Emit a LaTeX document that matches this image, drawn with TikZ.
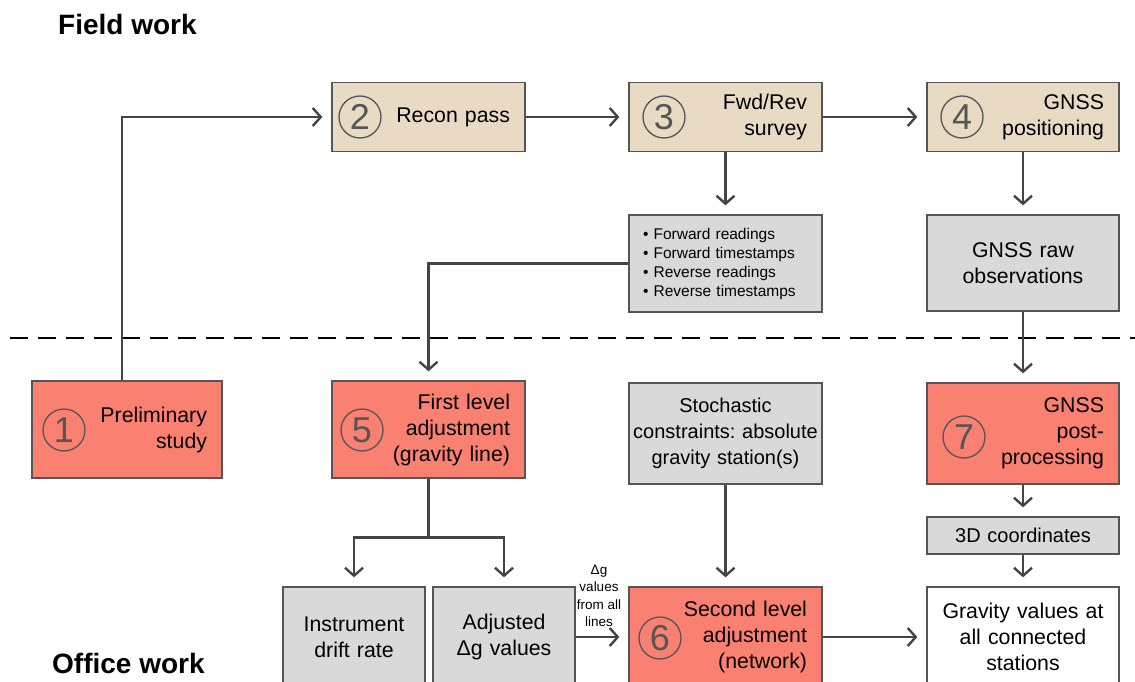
\documentclass[tikz,border=0pt]{standalone}
\usepackage{fontspec}
\setmainfont{Liberation Sans}
\usetikzlibrary{arrows.meta}
\definecolor{beige}{RGB}{233,218,196}
\definecolor{salmon}{RGB}{250,128,114}
\definecolor{lgray}{RGB}{217,217,217}
\definecolor{edgec}{RGB}{85,85,85}
\definecolor{arrc}{RGB}{68,68,68}
\frenchspacing
\begin{document}
\begin{tikzpicture}[x=1pt,y=-1pt,
  base/.style={draw=edgec, line width=1.3pt, rectangle, inner ysep=0pt, font=\fontsize{21.3}{26}\selectfont},
  fieldbox/.style={base, fill=beige},
  redbox/.style={base, fill=salmon},
  graybox/.style={base, fill=lgray},
  whitebox/.style={base, fill=white},
  rtext/.style={align=right, text width=#1, inner xsep=15pt},
  ctext/.style={align=center, text width=#1, inner xsep=5pt},
  num/.style={circle, draw=edgec, line width=1.3pt, minimum size=42pt, inner sep=0pt, text=edgec, font=\fontsize{36}{36}\selectfont},
  conn/.style={draw=arrc, line width=2.4pt},
  arr/.style={conn, -{Straight Barb[length=8pt,width=18pt]}, shorten >=9pt},
  head/.style={anchor=base west, inner sep=0pt, font=\bfseries\fontsize{28}{30}\selectfont}
]
\useasboundingbox (0,0) rectangle (1135,682);

% headers
\node[head] (fw) at (58,35) {Field work};
\node[head] (ow) at (52,673) {Office work};

% field boxes
\node[fieldbox, rtext=163pt, minimum height=69pt] (b2) at (428.5,117) {Recon pass};
\node[fieldbox, rtext=163pt, minimum height=69pt] (b3) at (725.5,117) {Fwd/Rev\\survey};
\node[fieldbox, rtext=162pt, minimum height=69pt] (b4) at (1023,117) {GNSS\\positioning};

\node[graybox, align=left, text width=165pt, inner xsep=14pt, minimum height=97pt, font=\fontsize{15.5}{19}\selectfont] (bul) at (725.5,263.5)
  {• Forward readings\\• Forward timestamps\\• Reverse readings\\• Reverse timestamps};
\node[graybox, ctext=182pt, minimum height=96pt] (raw) at (1023,263) {GNSS raw\\observations};

% office boxes
\node[redbox, rtext=160pt, minimum height=97pt] (b1) at (127,429.5) {Preliminary\\study};
\node[redbox, rtext=163pt, minimum height=97pt] (b5) at (428.5,429.5) {First level\\adjustment\\(gravity line)};
\node[graybox, align=center, text width=193pt, inner xsep=0pt, minimum height=101pt, font=\fontsize{20}{26}\selectfont] (st) at (725.5,433.5) {Stochastic\\constraints: absolute\\gravity station(s)};
\node[redbox, rtext=162pt, minimum height=101pt] (b7) at (1023,433.5) {GNSS\\post-\\processing};
\node[graybox, ctext=182pt, minimum height=37pt, font=\fontsize{20}{24}\selectfont] (c3d) at (1023,535.5) {3D coordinates};

\node[graybox, ctext=132pt, minimum height=100pt] (instr) at (354,637) {Instrument\\drift rate};
\node[graybox, ctext=132pt, minimum height=100pt] (adj) at (504,637) {Adjusted\\Δg values};
\node[redbox, rtext=163pt, minimum height=100pt] (b6) at (725.5,637) {Second level\\adjustment\\(network)};
\node[whitebox, ctext=182pt, minimum height=100pt] (grav) at (1023,637) {Gravity values at\\all connected\\stations};

% numbers
\node[num] (n1) at (64,430) {1};
\node[num] (n2) at (360,117) {2};
\node[num] (n3) at (664,117) {3};
\node[num] (n4) at (962,117) {4};
\node[num] (n5) at (362,430) {5};
\node[num] (n6) at (660,638) {6};
\node[num] (n7) at (964,437) {7};

% label
\node[align=center, inner sep=0pt, font=\fontsize{13.5}{17.5}\selectfont] (lbl) at (599,596) {Δg\\values\\from all\\lines};

% separator
\coordinate (dl) at (10,338);
\coordinate (dr) at (1135,338);
\draw[line width=2pt, dash pattern=on 18pt off 10pt] (dl) -- (dr);

% connectors
\draw[arr] ([xshift=-5pt]b1.north) |- (b2.west);
\draw[arr] (b2.east) -- (b3.west);
\draw[arr] (b3.east) -- (b4.west);
\draw[arr] (b3.south) -- (bul.north);
\draw[arr] (b4.south) -- (raw.north);
\draw[arr] (bul.west) -| (b5.north);
\draw[arr] (raw.south) -- (b7.north);
\draw[arr] (b7.south) -- (c3d.north);
\draw[arr] (c3d.south) -- (grav.north);
\draw[conn] (b5.south) -- ++(0,59) coordinate (sp);
\draw[arr] (sp) -| (instr.north);
\draw[arr] (sp) -| (adj.north);
\draw[arr] (st.south) -- (b6.north);
\draw[arr] (adj.east) -- (adj.east -| b6.west);
\draw[arr] (b6.east) -- (grav.west);
\end{tikzpicture}
\end{document}
